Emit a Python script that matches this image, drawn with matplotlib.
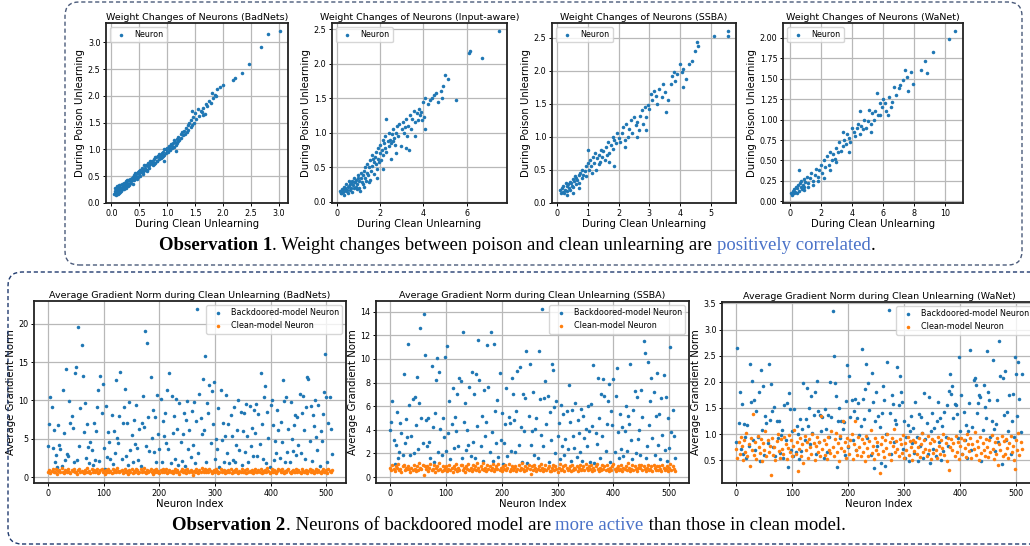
import matplotlib
matplotlib.use("Agg")
import matplotlib.pyplot as plt
import numpy as np
from matplotlib.patches import FancyBboxPatch
from matplotlib.transforms import IdentityTransform

# ---------------- data: top row (weight changes) ----------------
badnets_clean = [0.05,0.06,0.07,0.08,0.08,0.09,0.10,0.10,0.11,0.12,0.12,0.13,0.14,0.15,0.15,0.16,0.17,0.18,0.19,0.20,0.21,0.22,0.23,0.24,0.25,0.26,0.27,0.28,0.29,0.30,
                 0.31,0.33,0.34,0.35,0.37,0.38,0.40,0.41,0.42,0.44,0.45,0.47,0.48,0.50,0.51,0.52,0.54,0.55,0.57,0.58,0.60,0.62,0.63,0.65,0.66,0.68,0.70,
                 0.72,0.74,0.75,0.77,0.78,0.80,0.82,0.83,0.85,0.87,0.88,0.90,0.92,0.93,0.95,0.97,0.98,1.00,1.02,1.03,1.05,1.07,1.08,1.10,1.12,1.13,1.15,1.17,1.18,1.20,0.95,1.15,
                 1.22,1.24,1.25,1.27,1.28,1.30,1.32,1.33,1.35,1.37,1.38,1.40,1.42,1.43,1.45,1.47,1.48,1.50,1.52,1.55,1.57,1.60,1.62,1.65,1.68,1.70,1.72,1.75,1.78,1.80,1.45,1.65,
                 1.82,1.85,1.88,1.90,1.95,2.00,2.18,2.22,2.35,2.47,2.68,2.81,3.02,
                 0.06,0.07,0.09,0.11,0.13,0.14,0.16,0.18,0.20,0.22,0.24,0.26,0.28,0.32,0.36,0.39,0.43,0.46,0.49,0.53,0.56,0.59,0.61,0.64,0.67,0.69,0.73,0.76,0.79,0.81,0.84,0.86,0.89,0.91,0.94,0.99,1.04,1.09,1.14,1.19]
badnets_poison = [0.17,0.22,0.19,0.25,0.15,0.20,0.28,0.18,0.23,0.30,0.21,0.26,0.19,0.33,0.24,0.28,0.22,0.36,0.27,0.31,0.25,0.38,0.29,0.34,0.30,0.40,0.33,0.37,0.31,0.42,
                  0.36,0.40,0.45,0.38,0.43,0.48,0.42,0.52,0.46,0.50,0.56,0.49,0.58,0.53,0.62,0.50,0.60,0.66,0.57,0.64,0.62,0.70,0.60,0.68,0.74,0.66,0.72,
                  0.78,0.70,0.76,0.82,0.74,0.85,0.79,0.88,0.82,0.90,0.84,0.93,0.87,0.96,0.90,1.00,0.93,1.02,0.96,1.06,0.98,1.10,1.03,1.12,1.05,1.18,1.08,1.20,1.12,1.24,0.79,0.97,
                  1.18,1.28,1.22,1.32,1.26,1.35,1.28,1.40,1.33,1.45,1.36,1.50,1.42,1.55,1.46,1.60,1.50,1.68,1.56,1.75,1.62,1.72,1.70,1.78,1.66,1.85,1.82,1.90,1.86,2.05,1.72,1.65,
                  1.96,2.02,2.00,2.12,2.17,2.20,2.30,2.33,2.42,2.59,2.92,3.16,3.21,
                  0.28,0.16,0.31,0.16,0.34,0.22,0.20,0.27,0.35,0.26,0.37,0.28,0.42,0.33,0.47,0.36,0.55,0.44,0.60,0.58,0.53,0.70,0.66,0.61,0.70,0.79,0.74,0.72,0.86,0.78,0.87,0.92,0.88,0.86,1.00,0.97,1.02,1.06,1.14,1.16]

inputaware_clean = [0.15,0.2,0.25,0.3,0.32,0.35,0.4,0.42,0.45,0.5,0.52,0.55,0.6,0.62,0.65,0.7,0.72,0.75,0.8,0.82,0.85,0.9,0.92,0.95,1.0,0.18,0.28,0.38,0.48,0.58,0.68,0.78,0.88,0.98,
                    1.02,1.05,1.1,1.12,1.15,1.2,1.22,1.25,1.3,1.32,1.35,1.4,1.42,1.45,1.5,1.52,1.55,1.6,1.62,1.65,1.7,1.72,1.75,1.8,1.82,1.85,1.9,1.92,1.95,2.0,1.08,1.28,1.48,1.68,1.88,
                    2.02,2.05,2.1,2.12,2.15,2.2,2.22,2.25,2.3,2.35,2.4,2.42,2.45,2.5,2.55,2.6,2.62,2.65,2.7,2.75,2.8,2.85,2.9,2.95,3.0,2.15,2.5,2.75,2.3,
                    3.05,3.1,3.15,3.2,3.25,3.3,3.4,3.45,3.5,3.55,3.6,3.7,3.75,3.8,3.85,3.9,4.0,4.05,4.1,4.2,4.3,4.4,4.5,4.6,4.7,4.8,4.85,4.9,3.2,3.6,4.1,3.35,3.95,
                    5.0,5.15,5.5,6.1,6.15,6.7,7.5]
inputaware_poison = [0.15,0.12,0.18,0.14,0.22,0.1,0.2,0.15,0.25,0.12,0.22,0.3,0.17,0.26,0.2,0.3,0.14,0.24,0.35,0.2,0.28,0.32,0.18,0.25,0.38,0.13,0.16,0.19,0.17,0.23,0.27,0.29,0.22,0.34,
                     0.3,0.2,0.35,0.42,0.28,0.38,0.25,0.45,0.35,0.5,0.3,0.42,0.55,0.38,0.5,0.32,0.6,0.45,0.68,0.52,0.58,0.4,0.65,0.55,0.72,0.48,0.62,0.78,0.58,0.7,0.15,0.22,0.28,0.62,0.35,
                     0.82,0.6,0.75,0.9,0.68,0.85,0.78,0.95,0.72,0.88,0.8,1.0,0.9,0.85,0.98,0.88,1.05,0.92,0.82,1.0,1.1,0.95,1.12,0.8,1.05,0.48,0.62,0.7,1.2,
                     1.15,1.0,1.08,1.2,0.95,1.1,1.25,1.05,1.2,1.32,1.15,1.28,1.18,1.35,1.25,1.3,1.45,1.22,1.5,1.42,1.48,1.5,1.55,1.58,1.45,1.6,1.5,1.68,0.78,0.95,1.05,0.75,1.18,
                     1.83,1.78,1.47,2.15,2.19,2.08,2.47]

ssba_clean = [0.1,0.12,0.15,0.18,0.2,0.22,0.25,0.28,0.3,0.32,0.35,0.38,0.4,0.42,0.45,0.48,0.5,0.52,0.55,0.58,0.6,0.62,0.65,0.7,0.72,0.75,0.8,0.82,0.85,0.9,0.92,0.95,1.0,0.3,0.5,0.7,
              1.02,1.05,1.1,1.12,1.15,1.2,1.22,1.25,1.3,1.35,1.4,1.42,1.45,1.5,1.55,1.6,1.62,1.65,1.7,1.75,1.8,1.82,1.85,1.9,1.95,2.0,1.0,1.35,1.7,1.85,
              2.05,2.1,2.15,2.2,2.25,2.3,2.35,2.4,2.45,2.5,2.55,2.6,2.65,2.7,2.75,2.8,2.85,2.9,2.95,3.0,2.2,2.6,2.9,
              3.05,3.1,3.15,3.2,3.3,3.4,3.5,3.6,3.7,3.75,3.8,3.85,3.9,4.0,4.05,4.1,4.2,4.3,4.4,4.5,4.55,4.6,3.25,3.55,4.1,3.45,
              5.1,5.55,5.55]
ssba_poison = [0.2,0.14,0.22,0.17,0.26,0.15,0.2,0.3,0.18,0.25,0.28,0.22,0.32,0.2,0.3,0.26,0.36,0.24,0.33,0.4,0.28,0.38,0.35,0.42,0.3,0.45,0.38,0.5,0.42,0.48,0.55,0.4,0.6,0.12,0.15,0.22,
               0.5,0.65,0.55,0.45,0.7,0.6,0.75,0.5,0.68,0.72,0.62,0.8,0.7,0.78,0.65,0.85,0.72,0.92,0.75,0.88,1.0,0.82,0.95,0.9,1.05,0.98,0.8,0.58,0.62,0.55,
               0.92,1.05,1.15,0.95,1.2,1.0,1.12,1.25,1.05,1.3,1.18,1.22,1.1,1.32,1.4,1.2,1.45,1.3,1.48,1.42,0.85,1.0,1.1,
               1.65,1.55,1.7,1.62,1.72,1.6,1.68,1.55,1.8,1.92,1.98,1.85,1.95,2.1,1.98,2.02,1.88,2.1,2.15,2.3,2.43,2.38,1.5,1.38,1.75,1.8,
               2.52,2.52,2.6]

wanet_clean = [0.1,0.15,0.2,0.25,0.3,0.35,0.4,0.45,0.5,0.55,0.6,0.65,0.7,0.75,0.8,0.85,0.9,0.95,1.0,1.1,1.2,1.3,1.4,1.5,1.6,1.7,1.8,1.9,2.0,0.6,0.9,1.2,1.5,1.8,
               2.1,2.2,2.3,2.4,2.5,2.6,2.7,2.8,2.9,3.0,3.1,3.2,3.3,3.4,3.5,3.6,3.7,3.8,3.9,4.0,2.2,2.6,3.0,3.4,3.8,
               4.1,4.2,4.3,4.4,4.5,4.6,4.7,4.8,4.9,5.0,5.1,5.2,5.3,5.4,5.5,5.6,5.7,5.8,5.9,6.0,4.5,5.2,5.8,
               6.1,6.2,6.4,6.5,6.7,6.8,7.0,7.1,7.3,7.4,7.6,7.8,7.9,6.3,6.6,
               8.4,8.7,8.8,9.2,10.2,10.6,7.55]
wanet_poison = [0.1,0.08,0.13,0.1,0.15,0.12,0.18,0.1,0.16,0.2,0.13,0.22,0.17,0.25,0.15,0.2,0.27,0.18,0.24,0.3,0.22,0.28,0.35,0.25,0.32,0.4,0.3,0.38,0.45,0.38,0.14,0.17,0.2,0.25,
                0.35,0.5,0.42,0.55,0.45,0.6,0.5,0.58,0.52,0.65,0.6,0.72,0.62,0.68,0.75,0.7,0.82,0.78,0.72,0.9,0.28,0.38,0.48,0.85,0.6,
                0.85,0.8,0.9,0.95,0.82,0.92,0.88,1.0,0.9,0.98,1.12,0.95,1.08,1.0,1.1,1.33,1.05,1.2,1.15,1.25,1.1,0.85,1.05,
                1.2,1.1,1.28,1.15,1.4,1.3,1.38,1.42,1.48,1.6,1.35,1.58,1.43,1.05,1.22,
                1.6,1.71,1.57,1.83,1.98,2.08,1.52]

# ---------------- data: bottom row (gradient norms, every 2nd neuron) ----------------
neuron_step = 2
badnets_backdoor = [4.0,6.9,10.4,9.1,3.8,6.1,2.0,2.9,1.3,6.8,4.2,3.6,1.5,11.4,5.8,2.2,
    14.1,3.0,2.7,9.9,7.0,8.0,6.4,1.9,13.6,14.4,2.2,19.6,4.0,9.0,17.2,13.2,
    5.9,9.6,2.5,6.9,3.9,1.8,4.6,3.5,1.6,7.1,2.2,6.0,9.1,11.3,2.1,13.2,
    8.4,12.2,3.8,1.0,9.3,2.6,5.9,4.6,2.3,8.1,1.7,6.0,3.1,12.7,5.1,4.4,
    8.0,13.7,2.3,7.1,9.2,11.5,2.7,7.0,1.6,9.8,3.5,5.5,2.0,7.4,4.3,9.4,
    3.8,2.2,6.3,1.4,7.0,10.6,6.5,19.0,4.0,17.5,7.8,3.4,13.0,5.1,8.7,3.3,
    7.8,1.9,10.7,5.6,3.6,10.2,2.0,7.3,5.3,8.3,4.5,11.3,3.7,13.6,1.8,10.6,
    5.8,8.0,2.4,10.2,6.3,1.6,9.6,4.6,2.1,5.6,8.4,1.5,7.4,9.9,3.6,6.1,
    2.6,8.6,4.2,9.8,1.8,7.3,21.9,3.1,10.8,7.7,5.6,12.8,6.2,15.8,2.0,9.6,
    8.3,12.0,4.4,11.2,6.9,12.4,2.4,5.0,3.7,9.0,1.3,11.3,4.8,7.0,2.0,5.4,
    10.7,3.1,6.9,1.8,8.1,5.4,2.2,9.2,1.9,4.2,6.2,10.1,3.5,8.5,1.6,6.0,
    8.4,3.3,9.5,5.3,1.9,9.3,4.0,6.4,2.7,8.7,5.8,9.5,2.7,8.2,4.3,13.6,
    6.9,2.4,10.4,11.9,1.8,8.5,5.1,1.3,9.4,10.1,6.8,2.2,4.7,3.2,8.8,6.2,
    2.5,7.2,4.6,12.7,9.9,1.9,10.5,3.3,6.3,2.0,9.8,5.0,3.4,6.8,8.1,2.9,
    7.9,4.2,10.8,3.1,8.3,10.6,6.1,2.4,9.2,13.0,12.8,4.7,9.3,2.1,8.1,6.7,
    10.0,5.2,3.5,9.4,1.4,6.0,4.7,8.2,11.1,16.1,10.5,2.0,7.1,10.4,6.3,3.0]
badnets_clean_model = [0.7,0.9,0.5,0.8,1.1,0.6,0.7,1.0,0.4,0.8,0.9,0.6,1.2,0.7,0.5,0.9,
    0.8,0.6,1.0,0.7,0.5,0.9,0.8,1.1,0.6,0.7,0.4,0.9,1.0,0.6,0.8,0.7,
    0.5,0.9,0.7,1.2,0.6,0.8,0.5,1.0,0.7,0.9,0.6,0.8,1.1,0.5,0.7,0.9,
    1.0,0.6,0.8,0.4,0.9,0.7,1.1,0.6,0.8,0.5,1.0,0.7,0.9,0.6,1.2,0.8,
    0.6,0.8,0.9,0.5,0.7,1.0,0.6,0.8,0.4,0.9,0.7,1.1,0.5,0.8,0.6,1.0,
    0.9,0.5,0.7,1.0,0.6,0.8,1.2,0.7,0.5,0.9,0.6,0.8,1.0,0.7,0.4,0.9,
    0.7,1.1,0.6,0.8,0.5,0.9,0.7,1.0,0.6,0.8,1.1,0.5,0.7,0.9,0.6,0.8,
    0.5,0.8,1.0,0.6,0.9,0.7,0.4,0.8,1.1,0.6,0.7,0.9,0.5,1.0,0.8,0.6,
    0.9,0.7,0.3,0.8,0.6,1.0,0.7,0.5,0.9,0.6,1.2,0.8,0.7,1.0,0.6,0.9,
    0.6,1.0,0.8,0.5,0.7,0.9,0.6,1.1,0.8,0.5,0.7,1.0,0.6,0.8,0.9,0.5,
    0.8,0.6,0.9,0.7,1.0,0.5,0.8,0.6,0.9,1.1,0.7,0.5,0.8,0.6,1.0,0.7,
    0.7,0.9,0.5,1.0,0.6,0.8,0.7,0.9,0.5,0.8,1.0,0.6,0.7,0.9,0.6,1.1,
    0.5,0.8,0.7,0.9,0.6,1.2,0.8,0.5,0.7,1.0,0.6,0.9,0.7,0.5,0.8,1.0,
    0.9,0.6,1.0,0.7,0.5,0.8,0.6,0.9,1.1,0.7,0.5,0.8,0.9,0.6,0.7,1.0,
    0.6,0.9,0.7,0.5,1.0,0.8,0.6,0.7,0.9,0.5,0.8,1.1,0.6,0.9,0.7,0.5,
    0.8,1.0,0.6,0.9,0.7,0.5,0.8,1.0,0.6,0.7,0.9,0.5,1.0,0.8,0.6,0.9]

ssba_backdoor = [4.0,4.7,6.4,3.1,1.1,2.7,5.5,1.6,2.1,4.6,3.7,1.9,8.7,2.9,4.9,3.4,
    11.3,6.1,1.9,3.5,6.6,2.0,6.8,4.4,8.5,2.4,6.3,12.6,5.0,2.9,13.8,10.3,
    4.8,2.6,5.0,3.0,1.6,9.4,4.2,1.3,5.4,8.2,10.1,2.1,8.9,4.1,1.9,5.0,
    3.4,10.2,2.2,11.1,3.7,6.4,1.5,4.5,7.5,2.5,5.1,3.9,7.0,2.6,8.4,8.1,
    1.6,12.3,4.7,6.3,2.3,4.0,2.7,7.6,1.8,8.9,3.0,7.0,1.6,8.7,4.3,11.6,
    8.2,2.6,5.2,1.4,7.4,3.5,4.7,11.2,7.6,2.1,12.3,3.8,1.4,11.3,5.6,2.9,
    6.5,1.7,8.8,3.1,5.4,1.1,2.9,4.5,7.5,1.8,5.1,4.6,2.2,8.4,7.0,4.8,
    2.1,5.6,9.0,2.7,9.3,4.2,1.3,7.0,3.9,6.7,10.7,1.2,5.2,9.6,2.7,3.9,
    7.2,1.9,4.1,5.0,1.6,10.7,6.6,3.6,14.2,2.6,6.7,8.1,4.5,6.9,1.3,5.5,
    3.1,9.6,9.1,5.9,2.0,6.4,3.5,4.6,1.5,6.1,2.6,5.3,1.9,3.2,5.6,2.4,
    7.8,4.7,1.4,5.7,3.5,2.5,6.3,1.7,4.8,3.7,2.1,5.8,1.4,5.2,3.3,4.1,
    2.6,6.0,3.9,1.3,6.2,4.3,9.5,1.2,3.7,2.8,8.4,5.0,1.6,7.0,3.5,8.3,
    6.9,2.2,4.5,6.4,7.9,1.3,5.6,4.4,8.3,2.1,6.9,9.2,3.8,1.6,5.3,2.4,
    4.2,1.8,3.9,6.0,2.2,5.2,4.5,9.6,3.1,1.5,5.7,7.3,2.0,6.8,3.2,4.0,
    1.9,7.4,5.1,11.5,10.5,1.6,2.6,9.7,4.4,6.4,8.4,3.3,7.2,1.9,5.2,8.8,
    2.7,5.3,1.5,6.7,3.6,8.6,2.3,6.8,1.4,5.0,2.5,11.0,3.8,5.7,3.5,1.6]
ssba_clean_model = [0.8,0.6,1.0,0.7,0.5,0.9,0.8,1.1,0.6,0.7,0.4,0.9,1.0,0.6,0.8,0.7,
    0.9,0.7,0.4,0.8,0.6,1.0,0.7,0.5,0.9,0.6,1.2,0.8,0.7,1.0,0.2,0.9,
    0.7,0.9,0.5,0.8,1.1,0.6,0.7,1.0,0.4,0.8,0.9,0.6,1.2,0.7,0.5,0.9,
    0.6,0.8,0.9,0.5,0.7,1.0,0.6,0.8,0.4,0.9,0.7,1.1,0.5,0.8,0.6,1.0,
    1.0,0.6,0.8,0.4,0.9,0.7,1.1,0.6,0.8,0.5,1.0,0.7,0.9,0.6,1.2,0.8,
    0.5,0.9,0.7,1.2,0.6,0.8,0.5,1.0,0.7,0.9,0.6,0.8,1.1,0.5,0.7,0.9,
    0.7,1.1,0.6,0.8,0.5,0.9,0.7,1.0,0.6,0.8,1.1,0.5,0.7,0.9,0.6,0.8,
    0.9,0.5,0.7,1.0,0.6,0.8,1.2,0.7,0.5,0.9,0.6,0.8,1.0,0.7,0.3,0.9,
    0.6,1.0,0.8,0.5,0.7,0.9,0.6,1.1,0.8,0.5,0.7,1.0,0.6,0.8,0.9,0.5,
    0.5,0.8,1.0,0.6,0.9,0.7,0.4,0.8,1.1,0.6,0.7,0.9,0.5,1.0,0.8,0.6,
    0.7,0.9,0.5,1.0,0.6,0.8,0.7,0.9,0.5,0.8,1.0,0.6,0.7,0.9,0.6,1.1,
    0.8,0.6,0.9,0.7,1.0,0.5,0.8,0.6,0.9,1.1,0.7,0.5,0.8,0.6,1.0,0.7,
    0.9,0.6,1.0,0.7,0.5,0.8,0.6,0.9,1.1,0.7,0.5,0.8,0.9,0.6,0.7,1.0,
    0.5,0.8,0.7,0.9,0.6,1.2,0.8,0.5,0.7,1.0,0.6,0.9,0.7,0.5,0.8,1.0,
    0.8,1.0,0.6,0.9,0.7,0.5,0.8,1.0,0.6,0.7,0.9,0.5,1.0,0.8,0.6,0.9,
    0.6,0.9,0.7,0.5,1.0,0.8,0.6,0.7,0.9,0.5,0.8,1.1,0.6,0.9,0.7,0.5]

wanet_backdoor = [0.85,2.65,1.22,1.80,0.72,1.57,0.62,1.20,0.95,0.55,1.18,0.78,2.35,1.62,2.01,0.88,
    1.65,0.70,1.45,0.95,1.80,0.48,2.22,1.08,1.92,0.60,1.35,1.22,0.82,2.35,1.27,1.95,
    1.45,0.75,1.52,0.58,1.25,0.92,1.25,0.64,0.98,1.08,0.55,1.55,0.88,1.60,0.37,1.78,
    1.47,0.70,1.05,0.58,1.48,0.65,1.16,1.00,0.52,1.28,0.68,1.10,1.97,0.88,1.29,1.89,
    1.15,1.50,0.80,1.72,1.02,1.36,1.80,0.62,2.02,1.45,0.85,1.36,1.05,1.32,0.55,1.47,
    1.10,0.65,1.37,0.95,2.00,1.32,3.35,2.50,1.97,1.73,0.36,1.25,1.50,0.92,1.24,1.10,
    1.23,0.60,1.63,2.32,0.76,2.11,1.32,1.65,0.88,1.45,1.67,0.70,1.30,1.60,0.98,1.15,
    2.63,1.68,1.28,1.87,2.34,0.92,1.98,1.46,0.60,2.16,1.62,0.35,1.25,1.80,0.78,1.35,
    1.14,0.45,1.41,1.91,1.66,0.38,1.00,2.37,3.37,1.40,0.62,1.75,1.58,0.85,1.27,1.20,
    2.28,1.55,2.12,1.80,1.62,0.72,1.25,0.55,0.95,1.18,0.48,1.05,1.35,0.82,1.12,0.64,
    1.62,0.95,0.48,1.38,0.78,1.33,1.02,0.55,1.78,0.90,1.22,0.62,1.70,0.45,1.05,1.40,
    0.72,1.12,0.58,1.25,1.62,0.85,1.30,0.50,1.15,0.68,1.42,0.95,1.55,0.78,1.83,2.15,
    1.77,1.92,1.30,1.57,1.55,1.38,0.92,2.48,1.05,1.75,0.62,1.42,0.88,1.18,0.55,1.05,
    1.60,2.60,0.70,1.13,2.04,2.07,1.94,1.40,1.59,1.75,1.70,0.48,1.08,1.93,1.52,1.30,
    2.59,1.80,1.65,0.95,1.25,2.41,1.10,0.68,1.20,1.66,0.85,2.78,2.12,0.42,2.07,1.37,
    2.20,0.88,1.42,1.05,1.75,0.62,1.25,1.76,0.95,2.48,2.14,1.35,2.38,1.67,1.03,2.14]
wanet_clean_model = [0.72,0.55,0.85,0.62,0.95,0.78,0.50,0.88,0.66,1.02,0.58,0.80,0.38,0.92,0.70,1.38,
    0.60,0.84,0.52,0.97,0.75,0.63,0.90,0.48,0.82,0.70,1.05,0.57,0.88,0.65,0.78,0.22,
    0.93,0.60,0.75,0.50,0.86,1.00,0.68,0.55,0.90,0.72,0.62,0.95,0.80,0.53,0.74,0.98,
    0.66,0.88,0.57,0.78,1.08,0.62,0.85,0.30,0.72,0.92,0.58,0.80,0.45,0.96,0.70,0.84,
    0.55,0.90,0.75,0.62,1.00,0.82,0.50,0.78,0.95,0.66,0.85,0.58,1.35,0.72,0.88,0.60,
    0.80,0.52,0.94,0.70,0.63,1.05,0.76,0.58,0.90,1.02,0.65,0.83,0.48,0.96,0.74,1.25,
    0.68,0.85,0.55,0.92,0.78,0.62,0.88,1.00,0.52,0.80,1.25,0.70,0.60,0.94,0.76,0.58,
    0.90,0.66,0.82,0.48,0.96,0.74,0.58,0.86,1.08,0.64,0.78,0.52,0.92,0.70,0.84,0.62,
    0.25,0.80,0.95,0.68,0.56,0.88,0.74,1.00,0.62,0.84,0.50,0.92,0.78,1.10,0.66,0.86,
    0.72,0.58,0.90,0.80,0.64,0.98,0.54,0.82,0.70,0.94,0.60,0.86,0.76,0.50,0.88,0.68,
    0.84,0.62,0.76,0.92,0.56,0.80,1.02,0.66,0.88,0.72,0.58,0.96,0.70,0.82,0.52,0.90,
    0.64,0.86,0.70,0.54,0.94,0.78,0.62,0.88,0.74,1.00,0.60,0.82,0.48,0.92,0.32,0.76,
    0.90,0.70,0.82,0.58,0.96,0.66,0.84,0.52,0.78,0.92,0.62,0.88,0.74,0.56,1.00,0.80,
    0.68,0.92,0.54,0.80,0.72,1.04,0.60,0.86,0.76,0.50,0.94,0.64,0.82,0.70,0.58,0.90,
    0.76,0.56,0.88,0.66,0.98,0.72,0.52,0.84,0.62,0.92,0.40,0.80,0.70,0.96,0.58,0.86,
    0.62,0.90,0.74,0.54,0.82,0.96,0.66,0.78,0.50,0.33,0.88,0.70,1.02,0.60,0.84,0.72]

top_titles = ["Weight Changes of Neurons (BadNets)", "Weight Changes of Neurons (Input-aware)",
              "Weight Changes of Neurons (SSBA)", "Weight Changes of Neurons (WaNet)"]
bottom_titles = ["Average Gradient Norm during Clean Unlearning (BadNets)",
                 "Average Gradient Norm during Clean Unlearning (SSBA)",
                 "Average Gradient Norm during Clean Unlearning (WaNet)"]
top_yticks = [[0.0,0.5,1.0,1.5,2.0,2.5,3.0],[0.0,0.5,1.0,1.5,2.0,2.5],[0.0,0.5,1.0,1.5,2.0,2.5],
              [0.0,0.25,0.5,0.75,1.0,1.25,1.5,1.75,2.0]]
bottom_yticks = [[0,5,10,15,20],[0,2,4,6,8,10,12,14],[0.5,1.0,1.5,2.0,2.5,3.0,3.5]]

# ---------------- figure ----------------
W, H = 1030, 546
fig = plt.figure(figsize=(W/100, H/100), dpi=100)
BLUE = "#1f77b4"
ORANGE = "#ff7f0e"
TFS = 6.8   # title font
LFS = 7.3   # label font
KFS = 5.8   # tick font

def px_axes(x0, y0, x1, y1):
    return fig.add_axes([x0/W, 1 - y1/H, (x1-x0)/W, (y1-y0)/H])

def style(ax):
    ax.grid(True, color="#b8b8b8", lw=0.9)
    ax.set_axisbelow(True)
    for s in ax.spines.values():
        s.set_linewidth(1.3)
        s.set_color("#222222")
    ax.tick_params(labelsize=KFS, length=2.5, width=0.7, pad=1.5)

top_boxes = [(106, 23, 288, 203), (332, 23, 507, 203), (552, 23, 736, 203), (783, 23, 963, 203)]
top_data = [(badnets_clean, badnets_poison), (inputaware_clean, inputaware_poison),
            (ssba_clean, ssba_poison), (wanet_clean, wanet_poison)]
for box, (cx, py), title, yt in zip(top_boxes, top_data, top_titles, top_yticks):
    ax = px_axes(*box)
    ax.scatter(cx, py, s=6.5, color=BLUE, linewidths=0, label="Neuron")
    ax.set_title(title, fontsize=TFS, pad=2)
    ax.set_xlabel("During Clean Unlearning", fontsize=LFS, labelpad=1)
    ax.set_ylabel("During Poison Unlearning", fontsize=LFS, labelpad=2)
    ax.set_yticks(yt)
    style(ax)
    ax.legend(loc="upper left", fontsize=KFS, markerscale=1.0, handletextpad=0.6,
              borderpad=0.4, framealpha=0.8)

bot_boxes = [(34, 301, 346, 483), (376, 301, 689, 483), (722, 302, 1036, 483)]
bot_data = [(badnets_backdoor, badnets_clean_model), (ssba_backdoor, ssba_clean_model),
            (wanet_backdoor, wanet_clean_model)]
for box, (bd, cl), title, yt in zip(bot_boxes, bot_data, bottom_titles, bottom_yticks):
    ax = px_axes(*box)
    idx_b = np.arange(len(bd)) * neuron_step
    idx_c = np.arange(len(cl)) * neuron_step
    ax.scatter(idx_b, bd, s=6.5, color=BLUE, linewidths=0, label="Backdoored-model Neuron")
    ax.scatter(idx_c, cl, s=6.5, color=ORANGE, linewidths=0, label="Clean-model Neuron")
    ax.set_title(title, fontsize=TFS, pad=2)
    ax.set_xlabel("Neuron Index", fontsize=LFS, labelpad=1)
    ax.set_ylabel("Average Grandient Norm", fontsize=LFS, labelpad=2)
    ax.set_xticks([0, 100, 200, 300, 400, 500])
    ax.set_yticks(yt)
    style(ax)
    ax.legend(loc="upper right", fontsize=KFS, markerscale=1.0, handletextpad=0.6,
              borderpad=0.4, framealpha=0.8)

# ---------------- dashed rounded boxes ----------------
top_frame = FancyBboxPatch((65, H-265), 1022-65, 263, boxstyle="round,pad=0,rounding_size=14",
                           transform=IdentityTransform(), fill=False, ls=(0, (3, 2)),
                           lw=1.0, edgecolor="#4a5a7a")
bot_frame = FancyBboxPatch((8, 2), 1040, H-272-2, boxstyle="round,pad=0,rounding_size=14",
                           transform=IdentityTransform(), fill=False, ls=(0, (3, 2)),
                           lw=1.0, edgecolor="#1f3a6e")
fig.add_artist(top_frame)
fig.add_artist(bot_frame)

# ---------------- observation captions ----------------
renderer = fig.canvas.get_renderer()
SERIF = "Liberation Serif"
def caption(pieces, cx, cy, size):
    texts = []
    for txt, kw in pieces:
        t = fig.text(0, cy/H, txt, fontsize=size, family=SERIF, va="center", ha="left",
                     transform=fig.transFigure, **kw)
        texts.append(t)
    widths = [t.get_window_extent(renderer).width for t in texts]
    x = cx - sum(widths)/2
    for t, w in zip(texts, widths):
        t.set_x(x/W)
        x += w

caption([("Observation 1", dict(weight="bold")),
         (". Weight changes between poison and clean unlearning are ", {}),
         ("positively correlated", dict(color="#4a72c8")),
         (".", {})], 517, H-245, 13.5)
caption([("Observation 2", dict(weight="bold")),
         (". Neurons of backdoored model are ", {}),
         ("more active", dict(color="#4a72c8")),
         (" than those in clean model.", {})], 509, H-525, 13.5)

fig.savefig("out.png", dpi=100)
